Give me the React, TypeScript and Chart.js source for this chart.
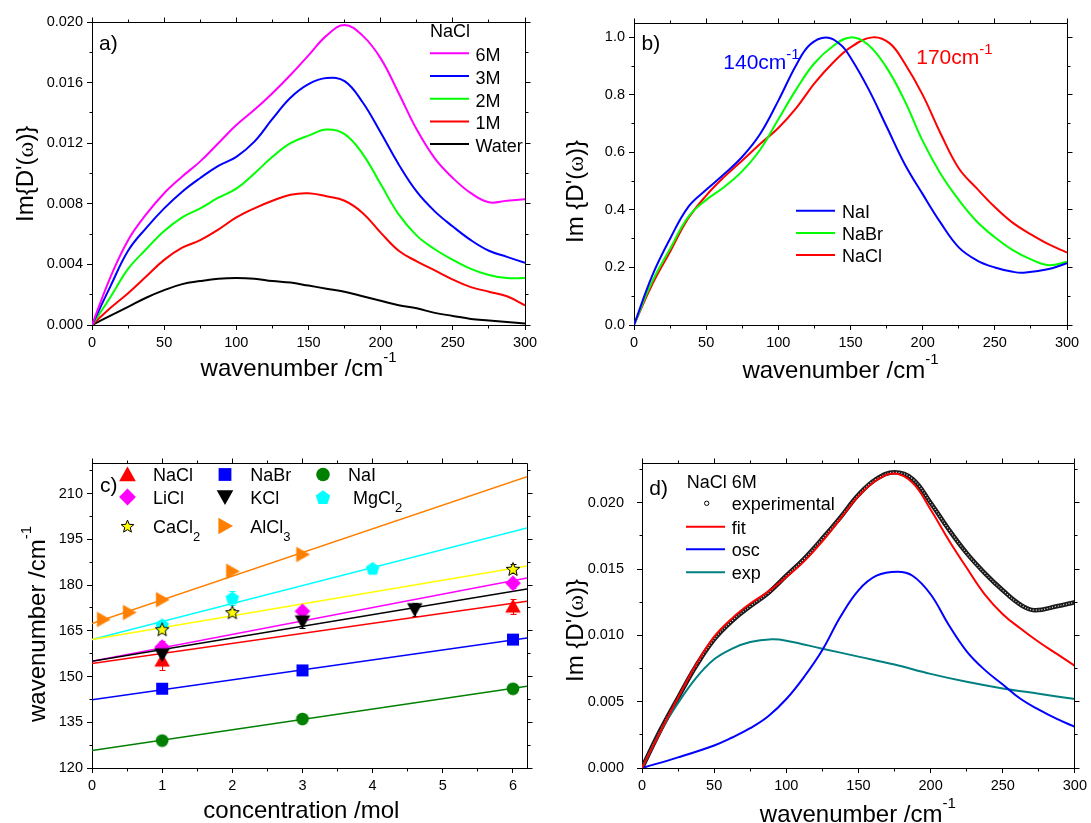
import React, { useEffect, useRef } from "react";
import { Chart, registerables } from "chart.js";
Chart.register(...registerables);

const FONT = '"Liberation Sans", Arial, Helvetica, sans-serif';
const SERIF = '"Liberation Serif", "DejaVu Serif", "Times New Roman", serif';

// ---------------- Panel a : NaCl concentrations ----------------
const A_X = [0, 12.5, 25, 37.5, 50, 62.5, 75, 87.5, 100, 112.5, 125, 137.5, 150, 162.5, 175, 187.5, 200, 212.5, 225, 237.5, 250, 262.5, 275, 287.5, 300];
const A_6M = [0, 0.0031, 0.0056, 0.0073, 0.0087, 0.0098, 0.0108, 0.012, 0.0132, 0.0142, 0.0153, 0.0165, 0.0178, 0.0191, 0.0198, 0.0191, 0.0176, 0.0153, 0.0129, 0.011, 0.0097, 0.0087, 0.0081, 0.0082, 0.0083];
const A_3M = [0, 0.0025, 0.0049, 0.0064, 0.0077, 0.0088, 0.0097, 0.0105, 0.0111, 0.0121, 0.0136, 0.015, 0.0159, 0.0163, 0.0161, 0.0147, 0.0127, 0.0106, 0.0088, 0.0075, 0.0065, 0.0056, 0.0049, 0.0045, 0.0041];
const A_2M = [0, 0.0018, 0.0037, 0.005, 0.0062, 0.0071, 0.0077, 0.0084, 0.009, 0.01, 0.0111, 0.012, 0.0125, 0.0129, 0.0126, 0.0113, 0.0093, 0.0073, 0.0059, 0.005, 0.0043, 0.0037, 0.0033, 0.0031, 0.0031];
const A_1M = [0, 0.0011, 0.0021, 0.0032, 0.0043, 0.0051, 0.0056, 0.0063, 0.0071, 0.0077, 0.0082, 0.0086, 0.0087, 0.0085, 0.0082, 0.0074, 0.0061, 0.0049, 0.0042, 0.0036, 0.003, 0.0025, 0.0022, 0.0019, 0.0013];
const A_WATER = [0, 0.0006, 0.0012, 0.0018, 0.0023, 0.0027, 0.0029, 0.00305, 0.0031, 0.00305, 0.0029, 0.0028, 0.0026, 0.0024, 0.0022, 0.0019, 0.0016, 0.0013, 0.0011, 0.0008, 0.0006, 0.0004, 0.0003, 0.0002, 0.0001];
const A_LABELS = ["6M", "3M", "2M", "1M", "Water"];
const A_COLORS = ["#ff00ff", "#0000ff", "#00ff00", "#ff0000", "#000000"];
const A_Y_TICKS = [0, 0.004, 0.008, 0.012, 0.016, 0.02];
const WN_TICKS = [0, 50, 100, 150, 200, 250, 300];

// ---------------- Panel b : normalised spectra ----------------
const B_NAI_X = [0, 12.5, 25, 37.5, 50, 62.5, 75, 87.5, 100, 112.5, 122, 133, 143, 150, 162.5, 175, 187.5, 200, 212.5, 225, 237.5, 250, 262.5, 270, 287.5, 300];
const B_NAI_Y = [0, 0.17, 0.3, 0.41, 0.47, 0.525, 0.585, 0.665, 0.78, 0.905, 0.975, 1.0, 0.975, 0.93, 0.82, 0.69, 0.56, 0.455, 0.355, 0.27, 0.225, 0.2, 0.185, 0.182, 0.195, 0.215];
const B_NABR_X = [0, 12.5, 25, 37.5, 50, 62.5, 75, 87.5, 100, 112.5, 125, 138, 150, 162, 175, 187.5, 200, 212.5, 225, 237.5, 250, 262.5, 275, 287.5, 300];
const B_NABR_Y = [0, 0.15, 0.265, 0.375, 0.435, 0.48, 0.535, 0.61, 0.715, 0.82, 0.91, 0.97, 1.0, 0.975, 0.895, 0.78, 0.64, 0.525, 0.435, 0.36, 0.305, 0.26, 0.228, 0.208, 0.22];
const B_NACL_X = [0, 12.5, 25, 37.5, 50, 62.5, 75, 87.5, 100, 112.5, 125, 137.5, 150, 165, 177, 187.5, 200, 212.5, 225, 237.5, 250, 262.5, 275, 287.5, 300];
const B_NACL_Y = [0, 0.14, 0.255, 0.37, 0.45, 0.515, 0.572, 0.63, 0.685, 0.755, 0.84, 0.91, 0.965, 1.0, 0.98, 0.91, 0.8, 0.665, 0.545, 0.475, 0.41, 0.355, 0.315, 0.28, 0.252];
const B_LABELS = ["NaI", "NaBr", "NaCl"];
const B_COLORS = ["#0000ff", "#00ff00", "#ff0000"];
const B_Y_TICKS = [0, 0.2, 0.4, 0.6, 0.8, 1.0];

// ---------------- Panel c : peak position vs concentration ----------------
const C_NACL_X = [1, 6];
const C_NACL_Y = [155.3, 173.0];
const C_NACL_E = [3.2, 2.4];
const C_NACL_FIT = [154.3, 174.7];
const C_NABR_X = [1, 3, 6];
const C_NABR_Y = [146.0, 152.0, 162.1];
const C_NABR_E = [1.5, 1.5, 1.2];
const C_NABR_FIT = [142.4, 162.6];
const C_NAI_X = [1, 3, 6];
const C_NAI_Y = [129.0, 136.1, 146.0];
const C_NAI_E = [1.2, 1.2, 1.0];
const C_NAI_FIT = [125.7, 146.8];
const C_LICL_X = [1, 3, 6];
const C_LICL_Y = [159.7, 171.4, 180.6];
const C_LICL_E = [2.0, 1.5, 1.5];
const C_LICL_FIT = [155.0, 182.3];
const C_KCL_X = [1, 3, 4.6];
const C_KCL_Y = [157.2, 168.0, 172.0];
const C_KCL_E = [2.5, 2.0, 2.0];
const C_KCL_FIT = [155.0, 178.7];
const C_MGCL2_X = [1, 2, 4];
const C_MGCL2_Y = [167.0, 175.8, 185.5];
const C_MGCL2_E = [1.5, 2.2, 1.2];
const C_MGCL2_FIT = [162.1, 198.7];
const C_CACL2_X = [1, 2, 6];
const C_CACL2_Y = [165.5, 171.1, 185.3];
const C_CACL2_E = [1.0, 1.0, 1.5];
const C_CACL2_FIT = [162.1, 186.2];
const C_ALCL3_X = [0.16, 0.53, 1, 2, 3];
const C_ALCL3_Y = [168.7, 171.0, 175.2, 184.5, 190.0];
const C_ALCL3_E = [0, 0, 0, 0, 0];
const C_ALCL3_FIT = [167.4, 215.5];
const C_FIT_X = [0, 6.2];
const C_X_TICKS = [0, 1, 2, 3, 4, 5, 6];
const C_Y_TICKS = [120, 135, 150, 165, 180, 195, 210];

// ---------------- Panel d : NaCl 6M fit ----------------
const D_EXP_X = [0, 12.5, 25, 37.5, 50, 62.5, 75, 87.5, 100, 112.5, 125, 137.5, 150, 162.5, 175, 187.5, 200, 212.5, 225, 237.5, 250, 262.5, 272, 287.5, 300];
const D_EXP_Y = [0, 0.0028, 0.0053, 0.0077, 0.0097, 0.0111, 0.0122, 0.0132, 0.0145, 0.0158, 0.0173, 0.0189, 0.0206, 0.0218, 0.0223, 0.0218, 0.02, 0.018, 0.0162, 0.0147, 0.0134, 0.0123, 0.0119, 0.0122, 0.0125];
const D_FIT_X = [0, 12.5, 25, 37.5, 50, 62.5, 75, 87.5, 100, 112.5, 125, 137.5, 150, 162.5, 175, 187.5, 200, 212.5, 225, 237.5, 250, 262.5, 275, 287.5, 300];
const D_FIT_Y = [0, 0.0027, 0.0053, 0.0078, 0.0099, 0.0113, 0.0124, 0.0133, 0.0144, 0.0156, 0.0171, 0.0188, 0.0205, 0.0217, 0.0222, 0.0215, 0.0195, 0.0172, 0.0151, 0.0131, 0.0116, 0.0105, 0.0095, 0.0086, 0.0077];
const D_OSC_X = [0, 25, 50, 62.5, 75, 87.5, 100, 112.5, 125, 137.5, 150, 162.5, 177, 187.5, 200, 212.5, 225, 237.5, 250, 262.5, 275, 287.5, 300];
const D_OSC_Y = [0, 0.0008, 0.0017, 0.0023, 0.003, 0.0039, 0.0052, 0.0069, 0.0089, 0.0114, 0.0134, 0.0145, 0.0148, 0.0145, 0.0131, 0.0108, 0.0088, 0.0074, 0.0063, 0.0052, 0.0044, 0.0037, 0.0031];
const D_EXPC_X = [0, 12.5, 25, 37.5, 50, 62.5, 75, 90, 100, 125, 150, 175, 200, 225, 250, 275, 300];
const D_EXPC_Y = [0, 0.0027, 0.0049, 0.0068, 0.0082, 0.009, 0.0095, 0.0097, 0.0096, 0.009, 0.0084, 0.0078, 0.0071, 0.0065, 0.006, 0.0056, 0.0052];
const D_LABELS = ["experimental", "fit", "osc", "exp"];
const D_COLORS = ["#000000", "#ff0000", "#0000ff", "#008080"];
const D_Y_TICKS = [0, 0.005, 0.01, 0.015, 0.02];

// ---------------- helpers ----------------
type Seg = { t: string; size: number; dy?: number; family?: string };
const S = (t: string, size: number, dy = 0, family = FONT): Seg => ({ t, size, dy, family });

function txt(ctx: CanvasRenderingContext2D, x: number, y: number, segs: Seg[], color = "#000", rot = false) {
  ctx.save();
  ctx.translate(x, y);
  if (rot) ctx.rotate(-Math.PI / 2);
  ctx.fillStyle = color;
  ctx.textAlign = "left";
  ctx.textBaseline = "alphabetic";
  let cx = 0;
  for (const s of segs) {
    ctx.font = `${s.size}px ${s.family || FONT}`;
    ctx.fillText(s.t, cx, s.dy || 0);
    cx += ctx.measureText(s.t).width;
  }
  ctx.restore();
}

function hline(ctx: CanvasRenderingContext2D, x1: number, x2: number, y: number, color: string) {
  ctx.save();
  ctx.strokeStyle = color;
  ctx.lineWidth = 2;
  ctx.beginPath();
  ctx.moveTo(x1, y);
  ctx.lineTo(x2, y);
  ctx.stroke();
  ctx.restore();
}

function pathMarker(g: CanvasRenderingContext2D, k: string, x: number, y: number, s: number) {
  g.beginPath();
  if (k === "tri") {
    g.moveTo(x, y - s); g.lineTo(x + 1.04 * s, y + 0.83 * s); g.lineTo(x - 1.04 * s, y + 0.83 * s); g.closePath();
  } else if (k === "dtri") {
    g.moveTo(x, y + s); g.lineTo(x + 1.04 * s, y - 0.83 * s); g.lineTo(x - 1.04 * s, y - 0.83 * s); g.closePath();
  } else if (k === "rtri") {
    g.moveTo(x + s, y); g.lineTo(x - 0.83 * s, y - 1.04 * s); g.lineTo(x - 0.83 * s, y + 1.04 * s); g.closePath();
  } else if (k === "sq") {
    const h = 0.8 * s; g.rect(x - h, y - h, 2 * h, 2 * h);
  } else if (k === "circ") {
    g.arc(x, y, 0.85 * s, 0, Math.PI * 2);
  } else if (k === "dia") {
    const h = 1.05 * s; g.moveTo(x, y - h); g.lineTo(x + h, y); g.lineTo(x, y + h); g.lineTo(x - h, y); g.closePath();
  } else if (k === "pent") {
    for (let i = 0; i < 5; i++) {
      const a = -Math.PI / 2 + (i * 2 * Math.PI) / 5;
      const px = x + Math.cos(a) * 0.95 * s, py = y + Math.sin(a) * 0.95 * s + 0.1 * s;
      if (i === 0) g.moveTo(px, py); else g.lineTo(px, py);
    }
    g.closePath();
  } else if (k === "star") {
    for (let i = 0; i < 10; i++) {
      const a = -Math.PI / 2 + (i * Math.PI) / 5;
      const r = i % 2 ? 0.42 * s : 0.95 * s;
      const px = x + Math.cos(a) * r, py = y + Math.sin(a) * r + 0.1 * s;
      if (i === 0) g.moveTo(px, py); else g.lineTo(px, py);
    }
    g.closePath();
  }
}

function drawMarker(g: CanvasRenderingContext2D, k: string, x: number, y: number, s: number, fill: string, stroke?: string) {
  pathMarker(g, k, x, y, s);
  g.fillStyle = fill;
  g.fill();
  if (stroke) {
    g.strokeStyle = stroke;
    g.lineWidth = 1;
    g.stroke();
  }
}

function markerImage(k: string, s: number, fill: string, stroke?: string) {
  const size = Math.ceil(2.6 * s) + 2;
  const c = document.createElement("canvas");
  c.width = size;
  c.height = size;
  const g = c.getContext("2d")!;
  drawMarker(g, k, size / 2, size / 2, s, fill, stroke);
  return c;
}

function axis(o: { horizontal: boolean; min: number; max: number; ticks: number[]; dec: number; size: number; pad: number }) {
  return {
    type: "linear",
    position: o.horizontal ? "bottom" : "left",
    min: o.min,
    max: o.max,
    afterBuildTicks: (s: any) => {
      s.ticks = o.ticks.map((v) => ({ value: v }));
    },
    afterFit: (s: any) => {
      if (o.horizontal) s.height = o.size;
      else s.width = o.size;
    },
    ticks: {
      autoSkip: false,
      maxRotation: 0,
      minRotation: 0,
      padding: o.pad,
      color: "#000",
      font: { family: FONT, size: 14.5 },
      callback: (v: any) => Number(v).toFixed(o.dec),
    },
    grid: { display: true, drawOnChartArea: false, drawTicks: true, tickLength: 5, color: "#000", lineWidth: 1 },
    border: { display: true, color: "#000", width: 1 },
  };
}

function drawFrame(chart: any, mx: number, my: number) {
  const { ctx, chartArea: a } = chart;
  const xs = chart.scales.x, ys = chart.scales.y;
  const al = (v: number) => Math.round(v - 0.5) + 0.5;
  const L = al(a.left), R = al(a.right), T = al(a.top), B = al(a.bottom);
  const minors = (sc: any, step: number) => {
    const out: number[] = [];
    const majors = sc.ticks.map((t: any) => t.value);
    const n = Math.floor((sc.max - sc.min) / step + 1e-6);
    for (let i = 0; i <= n; i++) {
      const v = sc.min + i * step;
      if (!majors.some((m: number) => Math.abs(m - v) < step * 0.01)) out.push(v);
    }
    return out;
  };
  ctx.save();
  ctx.strokeStyle = "#000";
  ctx.lineWidth = 1;
  ctx.beginPath();
  ctx.moveTo(L, T);
  ctx.lineTo(R, T);
  ctx.lineTo(R, B);
  for (const t of xs.ticks) {
    const p = al(xs.getPixelForValue(t.value));
    ctx.moveTo(p, T); ctx.lineTo(p, T - 5);
  }
  for (const t of ys.ticks) {
    const p = al(ys.getPixelForValue(t.value));
    ctx.moveTo(R, p); ctx.lineTo(R + 5, p);
  }
  for (const v of minors(xs, mx)) {
    const p = al(xs.getPixelForValue(v));
    ctx.moveTo(p, B); ctx.lineTo(p, B + 3);
    ctx.moveTo(p, T); ctx.lineTo(p, T - 3);
  }
  for (const v of minors(ys, my)) {
    const p = al(ys.getPixelForValue(v));
    ctx.moveTo(L, p); ctx.lineTo(L - 3, p);
    ctx.moveTo(R, p); ctx.lineTo(R + 3, p);
  }
  ctx.stroke();
  ctx.restore();
}

function drawErrors(chart: any) {
  const { ctx } = chart;
  const xs = chart.scales.x, ys = chart.scales.y;
  ctx.save();
  ctx.lineWidth = 1;
  chart.data.datasets.forEach((ds: any) => {
    if (!ds.errors) return;
    ctx.strokeStyle = ds.errColor;
    ctx.beginPath();
    ds.data.forEach((p: any, i: number) => {
      const e = ds.errors[i];
      if (!e) return;
      const px = Math.round(xs.getPixelForValue(p.x)) + 0.5;
      const y1 = Math.round(ys.getPixelForValue(p.y + e)) + 0.5;
      const y2 = Math.round(ys.getPixelForValue(p.y - e)) + 0.5;
      ctx.moveTo(px, y1); ctx.lineTo(px, y2);
      ctx.moveTo(px - 3, y1); ctx.lineTo(px + 3, y1);
      ctx.moveTo(px - 3, y2); ctx.lineTo(px + 3, y2);
    });
    ctx.stroke();
  });
  ctx.restore();
}

function decor(mx: number, my: number, texts: (ctx: CanvasRenderingContext2D) => void, errors = false) {
  return {
    id: "decor",
    beforeDatasetsDraw(chart: any) {
      if (errors) drawErrors(chart);
    },
    afterDraw(chart: any) {
      drawFrame(chart, mx, my);
      texts(chart.ctx);
    },
  };
}

function curve(xs: number[], ys: number[], color: string, width = 2, extra: any = {}) {
  return {
    data: xs.map((x, i) => ({ x, y: ys[i] })),
    showLine: true,
    borderColor: color,
    backgroundColor: color,
    borderWidth: width,
    pointRadius: 0,
    tension: 0.4,
    fill: false,
    ...extra,
  };
}

function baseOptions(pad: { top: number; right: number }, x: any, y: any) {
  return {
    responsive: false,
    animation: false,
    devicePixelRatio: 1,
    events: [],
    layout: { padding: { left: 0, top: pad.top, right: pad.right, bottom: 0 } },
    plugins: { legend: { display: false }, tooltip: { enabled: false } },
    scales: { x, y },
  };
}

const TITLE = 24;
const SUP = 15;
const LEG = 18;
const omegaTitle = (space: boolean) => [S(space ? "Im {D'(" : "Im{D'(", TITLE), S("\u03c9", TITLE, 0, SERIF), S(")}", TITLE)];
const wnTitle = [S("wavenumber /cm", TITLE), S("-1", SUP, -14)];

// ---------------- chart builders ----------------
function buildA() {
  const series = [A_6M, A_3M, A_2M, A_1M, A_WATER];
  return {
    type: "scatter",
    data: { datasets: series.map((s, i) => curve(A_X, s, A_COLORS[i])) },
    options: baseOptions(
      { top: 22, right: 20 },
      axis({ horizontal: true, min: 0, max: 300, ticks: WN_TICKS, dec: 0, size: 85, pad: 4 }),
      axis({ horizontal: false, min: 0, max: 0.02, ticks: A_Y_TICKS, dec: 3, size: 92, pad: 4 })
    ),
    plugins: [
      decor(25, 0.002, (ctx) => {
        txt(ctx, 99, 50, [S("a)", 21)]);
        txt(ctx, 430, 37, [S("NaCl", LEG)]);
        A_LABELS.forEach((l, i) => {
          const y = 53.3 + i * 22.7;
          hline(ctx, 430, 469, y, A_COLORS[i]);
          txt(ctx, 475.5, y + 8, [S(l, LEG)]);
        });
        txt(ctx, 200.6, 376, wnTitle);
        txt(ctx, 33, 222, omegaTitle(false), "#000", true);
      }),
    ],
  };
}

function buildB() {
  const xs = [B_NAI_X, B_NABR_X, B_NACL_X];
  const ys = [B_NAI_Y, B_NABR_Y, B_NACL_Y];
  return {
    type: "scatter",
    data: { datasets: ys.map((s, i) => curve(xs[i], s, B_COLORS[i])) },
    options: baseOptions(
      { top: 23, right: 24 },
      axis({ horizontal: true, min: 0, max: 300, ticks: WN_TICKS, dec: 0, size: 85, pad: 4 }),
      axis({ horizontal: false, min: 0, max: 1.05, ticks: B_Y_TICKS, dec: 1, size: 89, pad: 4 })
    ),
    plugins: [
      decor(25, 0.1, (ctx) => {
        txt(ctx, 96.6, 50, [S("b)", 21)]);
        txt(ctx, 178.3, 69, [S("140cm", 21), S("-1", 15, -10)], "#0000ff");
        txt(ctx, 371.2, 64, [S("170cm", 21), S("-1", 15, -10)], "#ff0000");
        B_LABELS.forEach((l, i) => {
          const y = 210.7 + i * 22.2;
          hline(ctx, 251, 290, y, B_COLORS[i]);
          txt(ctx, 297, y + 7, [S(l, LEG)]);
        });
        txt(ctx, 197.4, 378, wnTitle);
        txt(ctx, 37.5, 243, omegaTitle(true), "#000", true);
      }),
    ],
  };
}

function buildC() {
  const salts = [
    { x: C_ALCL3_X, y: C_ALCL3_Y, e: C_ALCL3_E, fit: C_ALCL3_FIT, color: "#ff8000", kind: "rtri", stroke: undefined, err: "#ff8000" },
    { x: C_CACL2_X, y: C_CACL2_Y, e: C_CACL2_E, fit: C_CACL2_FIT, color: "#ffff00", kind: "star", stroke: "#000", err: "#000" },
    { x: C_MGCL2_X, y: C_MGCL2_Y, e: C_MGCL2_E, fit: C_MGCL2_FIT, color: "#00ffff", kind: "pent", stroke: undefined, err: "#00ffff" },
    { x: C_KCL_X, y: C_KCL_Y, e: C_KCL_E, fit: C_KCL_FIT, color: "#000000", kind: "dtri", stroke: undefined, err: "#000" },
    { x: C_LICL_X, y: C_LICL_Y, e: C_LICL_E, fit: C_LICL_FIT, color: "#ff00ff", kind: "dia", stroke: undefined, err: "#ff00ff" },
    { x: C_NAI_X, y: C_NAI_Y, e: C_NAI_E, fit: C_NAI_FIT, color: "#008000", kind: "circ", stroke: undefined, err: "#008000" },
    { x: C_NABR_X, y: C_NABR_Y, e: C_NABR_E, fit: C_NABR_FIT, color: "#0000ff", kind: "sq", stroke: undefined, err: "#0000ff" },
    { x: C_NACL_X, y: C_NACL_Y, e: C_NACL_E, fit: C_NACL_FIT, color: "#ff0000", kind: "tri", stroke: undefined, err: "#ff0000" },
  ];
  const points = salts.map((s) => ({
    data: s.x.map((x, i) => ({ x, y: s.y[i] })),
    showLine: false,
    pointStyle: markerImage(s.kind, 7.5, s.color, s.stroke),
    pointRadius: 7,
    errors: s.e,
    errColor: s.err,
  }));
  const lines = salts.map((s) => curve(C_FIT_X, s.fit, s.color, 1.5, { tension: 0 }));
  const legend = [
    { t: [S("NaCl", LEG)], k: "tri", c: "#ff0000", col: 0, row: 0 },
    { t: [S("NaBr", LEG)], k: "sq", c: "#0000ff", col: 1, row: 0 },
    { t: [S("NaI", LEG)], k: "circ", c: "#008000", col: 2, row: 0 },
    { t: [S("LiCl", LEG)], k: "dia", c: "#ff00ff", col: 0, row: 1 },
    { t: [S("KCl", LEG)], k: "dtri", c: "#000000", col: 1, row: 1 },
    { t: [S("MgCl", LEG), S("2", 13, 8)], k: "pent", c: "#00ffff", col: 2, row: 1, dx: 5 },
    { t: [S("CaCl", LEG), S("2", 13, 8)], k: "star", c: "#ffff00", col: 0, row: 2, s: "#000" },
    { t: [S("AlCl", LEG), S("3", 13, 8)], k: "rtri", c: "#ff8000", col: 1, row: 2 },
  ];
  const symX = [127.5, 225, 323];
  const txX = [153, 250.3, 348];
  const rowY = [64.5, 87, 116];
  return {
    type: "scatter",
    data: { datasets: [...points, ...lines] },
    options: baseOptions(
      { top: 53, right: 18 },
      axis({ horizontal: true, min: 0, max: 6.2, ticks: C_X_TICKS, dec: 0, size: 55, pad: 4 }),
      axis({ horizontal: false, min: 120, max: 220, ticks: C_Y_TICKS, dec: 0, size: 92, pad: 4 })
    ),
    plugins: [
      decor(
        0.5,
        7.5,
        (ctx) => {
          txt(ctx, 100, 82, [S("c)", 21)]);
          legend.forEach((e: any) => {
            drawMarker(ctx, e.k, symX[e.col], rowY[e.row], e.k === "star" ? 7 : 8, e.c, e.s);
            txt(ctx, txX[e.col] + (e.dx || 0), rowY[e.row] + 6.6, e.t);
          });
          txt(ctx, 203.3, 408, [S("concentration /mol", TITLE)]);
          txt(ctx, 45, 312, wnTitle, "#000", true);
        },
        true
      ),
    ],
  };
}

function buildD() {
  const datasets = [
    curve(D_FIT_X, D_FIT_Y, "#ff0000"),
    curve(D_OSC_X, D_OSC_Y, "#0000ff"),
    curve(D_EXPC_X, D_EXPC_Y, "#008080"),
    curve(D_EXP_X, D_EXP_Y, "rgba(255,255,255,0.9)", 1.2, { borderDash: [1, 1.8] }),
    curve(D_EXP_X, D_EXP_Y, "#1a1a1a", 4.5),
  ];
  return {
    type: "scatter",
    data: { datasets },
    options: baseOptions(
      { top: 53, right: 15 },
      axis({ horizontal: true, min: 0, max: 300, ticks: WN_TICKS, dec: 0, size: 55, pad: 4 }),
      axis({ horizontal: false, min: 0, max: 0.023, ticks: D_Y_TICKS, dec: 3, size: 97, pad: 13 })
    ),
    plugins: [
      decor(25, 0.0025, (ctx) => {
        txt(ctx, 104.3, 85, [S("d)", 21)]);
        txt(ctx, 141.7, 78.3, [S("NaCl 6M", LEG)]);
        ctx.save();
        ctx.strokeStyle = "#000";
        ctx.lineWidth = 1;
        ctx.beginPath();
        ctx.arc(161.7, 93.3, 2.2, 0, Math.PI * 2);
        ctx.stroke();
        ctx.restore();
        txt(ctx, 186.7, 100, [S(D_LABELS[0], LEG)]);
        [116.7, 139.3, 162.3].forEach((y, i) => {
          hline(ctx, 141, 180, y, D_COLORS[i + 1]);
          txt(ctx, 186.7, y + 6.8, [S(D_LABELS[i + 1], LEG)]);
        });
        txt(ctx, 214.8, 412, wnTitle);
        txt(ctx, 38, 272, omegaTitle(true), "#000", true);
      }),
    ],
  };
}

function Panel(props: { left: number; top: number; width: number; height: number; build: () => any }) {
  const ref = useRef<HTMLCanvasElement>(null);
  useEffect(() => {
    const chart = new Chart(ref.current as HTMLCanvasElement, props.build());
    return () => chart.destroy();
  }, []);
  return (
    <canvas
      ref={ref}
      width={props.width}
      height={props.height}
      style={{ position: "absolute", left: props.left, top: props.top, width: props.width, height: props.height }}
    />
  );
}

export default function App() {
  return (
    <div style={{ position: "absolute", left: 0, top: 0, width: 1091, height: 823, background: "#fff", overflow: "hidden" }}>
      <Panel left={0} top={0} width={545} height={410} build={buildA} />
      <Panel left={545} top={0} width={546} height={410} build={buildB} />
      <Panel left={0} top={410} width={545} height={413} build={buildC} />
      <Panel left={545} top={410} width={546} height={413} build={buildD} />
    </div>
  );
}
